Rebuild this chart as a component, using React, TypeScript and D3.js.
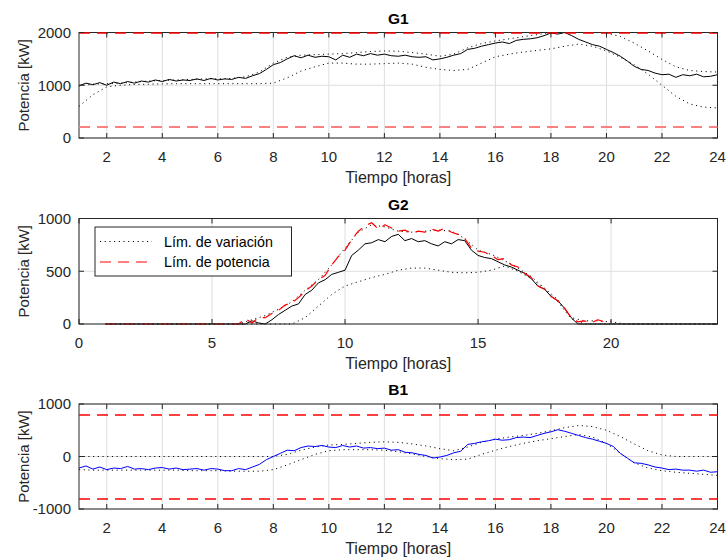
import React from "react";
import * as d3 from "d3";

// ---------- DATA ----------
// time grids (hours)
const tFine = d3.range(1, 24.0001, 0.25); // 93 points
const tCoarse = d3.range(1, 24.0001, 0.5); // 47 points
const tRedG2 = d3.range(1, 20.0001, 0.25); // 77 points

// G1
const g1Power = [
  990, 1040, 1010, 1050, 1000, 1060, 1030, 1070, 1040, 1080, 1060, 1100,
  1070, 1110, 1080, 1100, 1090, 1120, 1090, 1130, 1100, 1120, 1110, 1150,
  1130, 1180, 1220, 1300, 1390, 1430, 1500, 1560, 1520, 1570, 1530, 1550,
  1540, 1480, 1570, 1530, 1590, 1560, 1600, 1570, 1590, 1560, 1550, 1570,
  1540, 1530, 1540, 1480, 1500, 1530, 1570, 1600, 1680, 1700, 1740, 1770,
  1800, 1820, 1790, 1850, 1870, 1880, 1900, 1940, 1990, 1970, 2000, 1940,
  1870, 1820, 1770, 1740, 1680, 1620, 1550, 1460, 1360, 1300, 1280, 1230,
  1200, 1210, 1150, 1200, 1180, 1210, 1160, 1170, 1200,
];
const g1Upper = [
  990, 1020, 1030, 1040, 1060, 1080, 1090, 1100, 1110, 1120, 1120, 1130,
  1160, 1250, 1420, 1530, 1570, 1580, 1590, 1600, 1620, 1640, 1650, 1645,
  1620, 1590, 1550, 1590, 1710, 1790, 1840, 1880, 1920, 1960, 2000, 2000,
  2000, 2000, 1990, 1925, 1800, 1650, 1490, 1350, 1280, 1260, 1250,
];
const g1Lower = [
  600, 820, 970, 1000, 1015, 1020, 1025, 1030, 1030, 1030, 1030, 1030,
  1030, 1030, 1040, 1140, 1270, 1350, 1420, 1420, 1400, 1400, 1410, 1420,
  1400, 1340, 1300, 1280, 1300, 1420, 1540, 1590, 1630, 1660, 1690, 1740,
  1780, 1740, 1650, 1530, 1390, 1210, 1000, 790, 645, 585, 570,
];
const g1Limits = [2000, 200];

// G2
const g2Power = [
  0, 0, 0, 0, 0, 0, 0, 0, 0, 0, 0, 0, 0, 0, 0, 0, 0, 0, 0, 0, 0, 0,
  30, 10, 0, 40, 90, 130, 170, 190, 280, 320, 390, 420, 470, 490, 510, 650,
  700, 760, 770, 800, 780, 830, 850, 790, 810, 780, 790, 760, 740, 780, 760,
  800, 790, 700, 650, 630, 620, 590, 560, 540, 510, 480, 430, 360, 330, 260,
  220, 150, 60, 0,
  0, 0, 0, 0, 0, 0, 0, 0, 0, 0, 0, 0, 0, 0, 0, 0, 0, 0, 0, 0, 0,
];
const g2Limit = [
  0, 0, 0, 0, 0, 0, 0, 0, 0, 0, 0, 0, 0, 0, 0, 0, 0, 0, 0, 0, 0,
  50, 10, 60, 60, 100, 130, 180, 200, 250, 310, 360, 420, 460, 560, 640, 700,
  800, 880, 930, 960, 900, 940, 910, 880, 890, 860, 880, 870, 900, 880, 910,
  870, 850, 810, 720, 690, 680, 650, 610, 620, 560, 540, 480, 440, 360, 330,
  260, 220, 150, 60, 20, 30, 10, 40, 20, 30,
];
const g2Upper = [
  0, 0, 0, 0, 0, 0, 0, 0, 0, 0, 0,
  40, 80, 140, 210, 320, 420, 560, 720, 870, 940, 920, 880, 870, 880, 890,
  880, 810, 700, 660, 600, 530, 450, 340, 230, 60, 30, 30, 20,
  0, 0, 0, 0, 0, 0, 0, 0,
];
const g2Lower = [
  0, 0, 0, 0, 0, 0, 0, 0, 0, 0, 0, 0, 0, 0, 0,
  60, 170, 280, 360, 400, 440, 470, 510, 530, 530, 510, 490, 485, 490, 510,
  550, 500, 430, 330, 210, 50,
  0, 0, 0, 0, 0, 0, 0, 0, 0, 0, 0,
];

// B1
const b1Power = [
  -220, -180, -240, -200, -250, -220, -230, -190, -240, -230, -250, -220,
  -210, -240, -220, -250, -240, -230, -260, -230, -240, -270, -270, -230,
  -250, -200, -150, -60, 0, 60, 120, 110, 170, 200, 190, 210,
  180, 170, 210, 180, 200, 160, 170, 150, 160, 120, 130, 80,
  70, 40, 20, -30, -10, 20, 70, 100, 230, 250, 280, 300,
  330, 310, 320, 360, 370, 360, 400, 440, 470, 510, 480, 440,
  400, 360, 330, 290, 250, 190, 60, -30, -120, -130, -160, -200,
  -220, -250, -240, -260, -260, -280, -260, -300, -290,
];
const b1Upper = [
  0, 0, 0, 0, 0, 0, 0, 0, 0, 0, 0, 0, 0, 0, 0,
  40, 120, 180, 220, 230, 250, 270, 280, 270, 240, 200, 150, 110, 180, 270,
  330, 370, 400, 440, 490, 550, 590, 570, 500, 380, 240, 110, 30, 0,
  0, 0, 0,
];
const b1Lower = [
  -250, -260, -260, -260, -260, -260, -260, -260, -270, -270, -270, -280,
  -280, -280, -250, -160, -60, 40, 110, 130, 130, 130, 120, 90,
  50, 0, -40, -60, -50, 40, 120, 190, 250, 300, 340, 380,
  420, 370, 250, 60, -120, -220, -270, -300, -320, -340, -360,
];
const b1Limits = [800, -800];

const xTicksHours = [2, 4, 6, 8, 10, 12, 14, 16, 18, 20, 22, 24];
const xTicksG2 = [0, 5, 10, 15, 20];

// ---------- LAYOUT ----------
const W = 727;
const H = 558;
const LEFT = 79;
const RIGHT = 717.5;
const FONT = "'Liberation Sans', Arial, Helvetica, sans-serif";
const AX = "#262626";
const GRID = "#dedede";
const DOT = "1.1 3.6";
const DASH = "11 7";
const RED = "#ff0000";
const PINK = "#ff8080";

type Series = {
  t: number[];
  v: number[];
  color: string;
  dash?: string;
  width?: number;
};

type HLine = { v: number; color: string; dash: string; width: number };

type PanelProps = {
  title: string;
  top: number;
  bottom: number;
  xDomain: [number, number];
  xTicks: number[];
  yDomain: [number, number];
  yTicks: number[];
  series: Series[];
  hLines?: HLine[];
  legend?: boolean;
};

function Panel(p: PanelProps) {
  const x = d3.scaleLinear().domain(p.xDomain).range([LEFT, RIGHT]);
  const y = d3.scaleLinear().domain(p.yDomain).range([p.bottom, p.top]);
  const line = d3
    .line<[number, number]>()
    .x((d) => x(d[0]))
    .y((d) => y(d[1]));
  const midY = (p.top + p.bottom) / 2;
  const tk = 5;
  return (
    <g>
      {/* grid */}
      {p.xTicks.map((t) => (
        <line key={"gx" + t} x1={x(t)} x2={x(t)} y1={p.top} y2={p.bottom} stroke={GRID} strokeWidth={1} />
      ))}
      {p.yTicks.map((t) => (
        <line key={"gy" + t} x1={LEFT} x2={RIGHT} y1={y(t)} y2={y(t)} stroke={GRID} strokeWidth={1} />
      ))}
      {/* data */}
      {p.series.map((s, i) => (
        <path
          key={"s" + i}
          d={line(s.t.map((t, j) => [t, s.v[j]] as [number, number])) || ""}
          fill="none"
          stroke={s.color}
          strokeWidth={s.width ?? 1}
          strokeDasharray={s.dash}
          strokeLinejoin="round"
        />
      ))}
      {/* box */}
      <rect x={LEFT} y={p.top} width={RIGHT - LEFT} height={p.bottom - p.top} fill="none" stroke={AX} strokeWidth={1} />
      {(p.hLines || []).map((h, i) => {
        const yy = Math.round(y(h.v));
        return (
          <line
            key={"h" + i}
            x1={LEFT}
            x2={RIGHT}
            y1={yy}
            y2={yy}
            stroke={h.color}
            strokeWidth={h.width}
            strokeDasharray={h.dash}
          />
        );
      })}
      {/* ticks */}
      {p.xTicks.map((t) => (
        <g key={"tx" + t}>
          <line x1={x(t)} x2={x(t)} y1={p.bottom} y2={p.bottom - tk} stroke={AX} />
          <line x1={x(t)} x2={x(t)} y1={p.top} y2={p.top + tk} stroke={AX} />
          <text x={x(t)} y={p.bottom + 24} textAnchor="middle" fontSize={15} fill={AX} fontFamily={FONT}>
            {t}
          </text>
        </g>
      ))}
      {p.yTicks.map((t) => (
        <g key={"ty" + t}>
          <line x1={LEFT} x2={LEFT + tk} y1={y(t)} y2={y(t)} stroke={AX} />
          <line x1={RIGHT} x2={RIGHT - tk} y1={y(t)} y2={y(t)} stroke={AX} />
          <text x={LEFT - 8} y={y(t) + 5.3} textAnchor="end" fontSize={15} fill={AX} fontFamily={FONT}>
            {t}
          </text>
        </g>
      ))}
      {/* labels */}
      <text x={(LEFT + RIGHT) / 2} y={p.top - 9} textAnchor="middle" fontSize={15.5} fontWeight="bold" fill="#000" fontFamily={FONT}>
        {p.title}
      </text>
      <text x={(LEFT + RIGHT) / 2} y={p.bottom + 45} textAnchor="middle" fontSize={16} fill={AX} fontFamily={FONT}>
        Tiempo [horas]
      </text>
      <text
        transform={`translate(24,${midY}) rotate(-90)`}
        textAnchor="middle"
        dy="0.35em"
        fontSize={15}
        fill={AX}
        fontFamily={FONT}
      >
        Potencia [kW]
      </text>
      {p.legend && (
        <g>
          <rect x={95} y={227} width={196.5} height={49} fill="#fff" stroke={AX} strokeWidth={1} />
          <line x1={100} x2={152} y1={241.5} y2={241.5} stroke="#000" strokeDasharray={DOT} />
          <line x1={100} x2={152} y1={262} y2={262} stroke={PINK} strokeWidth={2} strokeDasharray={DASH} />
          <text x={164} y={246.5} fontSize={14.3} fill="#000" fontFamily={FONT}>
            Lím. de variación
          </text>
          <text x={164} y={266.5} fontSize={14.3} fill="#000" fontFamily={FONT}>
            Lím. de potencia
          </text>
        </g>
      )}
    </g>
  );
}

export default function App() {
  return (
    <svg
      width={W}
      height={H}
      viewBox={`0 0 ${W} ${H}`}
      style={{ position: "absolute", left: 0, top: 0, background: "#fff" }}
    >
      <rect width={W} height={H} fill="#fff" />
      <Panel
        title="G1"
        top={32.5}
        bottom={138}
        xDomain={[1, 24]}
        xTicks={xTicksHours}
        yDomain={[0, 2000]}
        yTicks={[0, 1000, 2000]}
        series={[
          { t: tFine, v: g1Power, color: "#000" },
          { t: tCoarse, v: g1Upper, color: "#000", dash: DOT },
          { t: tCoarse, v: g1Lower, color: "#000", dash: DOT },
        ]}
        hLines={[
          { v: g1Limits[0], color: RED, dash: DASH, width: 1.5 },
          { v: g1Limits[1], color: PINK, dash: DASH, width: 2 },
        ]}
      />
      <Panel
        title="G2"
        top={218.5}
        bottom={324}
        xDomain={[0, 24]}
        xTicks={xTicksG2}
        yDomain={[0, 1000]}
        yTicks={[0, 500, 1000]}
        series={[
          { t: tFine, v: g2Power, color: "#000" },
          { t: tCoarse, v: g2Upper, color: "#000", dash: DOT },
          { t: tCoarse, v: g2Lower, color: "#000", dash: DOT },
          { t: tRedG2, v: g2Limit, color: RED, dash: DASH, width: 1.2 },
        ]}
        legend
      />
      <Panel
        title="B1"
        top={404}
        bottom={509}
        xDomain={[1, 24]}
        xTicks={xTicksHours}
        yDomain={[-1000, 1000]}
        yTicks={[-1000, 0, 1000]}
        series={[
          { t: tCoarse, v: b1Upper, color: "#000", dash: DOT },
          { t: tCoarse, v: b1Lower, color: "#000", dash: DOT },
          { t: tFine, v: b1Power, color: "#0000ff" },
        ]}
        hLines={b1Limits.map((v) => ({ v, color: RED, dash: DASH, width: 1.5 }))}
      />
    </svg>
  );
}
